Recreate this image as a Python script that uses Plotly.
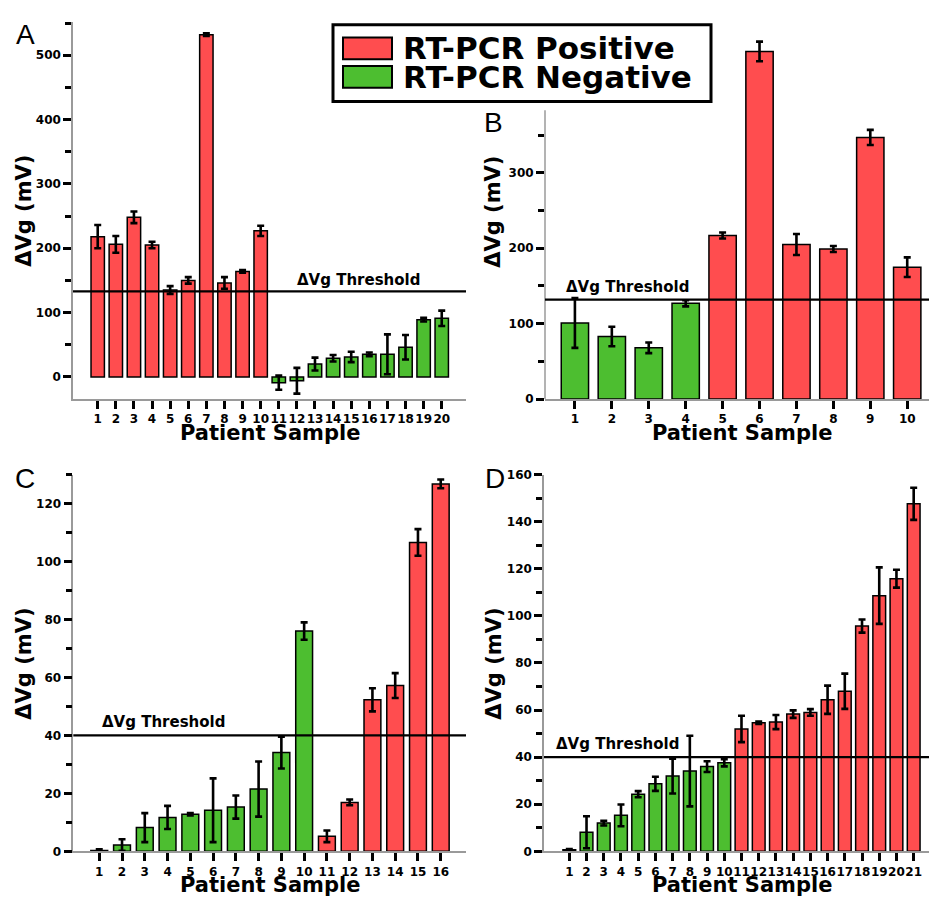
import plotly.graph_objects as go

W, H = 929, 901

# ---------------- data ----------------
a_samples = list(range(1, 21))
a_values = [218, 206, 248, 205, 135, 150, 532, 146, 164, 227,
            -9, -6, 20, 29, 31, 35, 35, 46, 89, 91]
a_errors = [18, 13, 9, 5, 6, 5, 2, 9, 2, 8,
            11, 20, 10, 5, 8, 3, 31, 19, 3, 12]
a_status = ["P"] * 10 + ["N"] * 10
a_threshold = 133

b_samples = list(range(1, 11))
b_values = [101, 83, 68, 127, 217, 461, 205, 199, 347, 175]
b_errors = [33, 13, 7, 4, 4, 13, 14, 4, 10, 13]
b_status = ["N"] * 4 + ["P"] * 6
b_threshold = 132

c_samples = list(range(1, 17))
c_values = [0.3, 2.2, 8.2, 11.7, 12.8, 14.2, 15.3, 21.5, 34.1, 76,
            5.2, 16.9, 52.3, 57.2, 106.6, 126.8]
c_errors = [0.4, 2, 5, 4, 0.4, 11, 4, 9.5, 5.5, 3,
            2, 1, 4, 4.3, 4.6, 1.5]
c_status = ["N"] * 10 + ["P"] * 6
c_threshold = 40

d_samples = list(range(1, 22))
d_values = [0.7, 8.1, 12, 15.3, 24.3, 28.7, 32, 34.1, 36, 37.6,
            52, 54.6, 54.9, 58.3, 59, 64.4, 68, 95.7, 108.6, 115.8, 147.6]
d_errors = [0.3, 6.8, 1, 4.6, 1.3, 3, 7.4, 15, 2.3, 1.5,
            5.6, 0.5, 3, 1.6, 1.4, 6, 7.5, 2.8, 12, 3.8, 6.8]
d_status = ["N"] * 10 + ["P"] * 11
d_threshold = 40

legend_labels = ["RT-PCR Positive", "RT-PCR Negative"]
panel_letters = ["A", "B", "C", "D"]

RED = "#FF4D4F"
GREEN = "#4DBE30"
COLORS = {"P": RED, "N": GREEN}
FONT = "DejaVu Sans"


def px(x, y):
    return x / W, 1 - y / H


fig = go.Figure()

panels = [
    ("", a_samples, a_values, a_errors, a_status, a_threshold,
     [-0.365, 21.34], [-34.1, 552], (73, 466), (15, 398),
     [0, 100, 200, 300, 400, 500], [50, 150, 250, 350, 450, 550], None),
    ("2", b_samples, b_values, b_errors, b_status, b_threshold,
     [0.19, 10.59], [0, 480], (545, 929), (30.6, 398.3),
     [0, 100, 200, 300], [50, 150, 250, 350], 383),
    ("3", c_samples, c_values, c_errors, c_status, c_threshold,
     [-0.14, 17.11], [0, 130], (73.3, 466), (475, 857.7),
     [0, 20, 40, 60, 80, 100, 120], [10, 30, 50, 70, 90, 110, 130], None),
    ("4", d_samples, d_values, d_errors, d_status, d_threshold,
     [-0.47, 21.89], [0, 160], (544, 929), (475, 857.7),
     list(range(0, 161, 20)), list(range(10, 160, 20)), None),
]

tickfont = dict(family=FONT, size=12, color="black", weight="bold")
layout_axes = {}

for (n, samples, vals, errs, status, thr, xr, yr, xd, yd, major, minor, spine_top) in panels:
    xa = "x" + n
    ya = "y" + n
    fig.add_trace(go.Bar(
        x=samples, y=vals,
        marker=dict(color=[COLORS[s] for s in status],
                    line=dict(color="black", width=1.5)),
        width=0.74,
        error_y=dict(type="data", array=errs, color="black",
                     thickness=2.6, width=3.5),
        xaxis=xa, yaxis=ya, showlegend=False,
    ))
    layout_axes["xaxis" + n] = dict(
        domain=[xd[0] / W, xd[1] / W], range=xr, anchor=ya,
        tickmode="array", tickvals=samples, ticktext=[str(s) for s in samples],
        tickangle=0, ticks="outside", ticklen=8, tickwidth=2.5, tickcolor="black",
        showline=True, linecolor="#9a9a9a", linewidth=1.5,
        showgrid=False, zeroline=False, tickfont=tickfont,
    )
    layout_axes["yaxis" + n] = dict(
        domain=[1 - yd[1] / H, 1 - yd[0] / H], range=yr, anchor=xa,
        tickmode="array", tickvals=major, ticktext=[str(v) for v in major],
        ticks="outside", ticklen=8, tickwidth=2.5, tickcolor="black",
        minor=dict(tickvals=minor, ticks="outside", ticklen=6, tickwidth=2.5,
                   tickcolor="black", showgrid=False),
        showline=(spine_top is None), linecolor="#9a9a9a", linewidth=1.5,
        showgrid=False, zeroline=False, tickfont=tickfont,
    )
    if spine_top is not None:
        fig.add_shape(type="line", xref=xa + " domain", yref=ya,
                      x0=0, x1=0, y0=yr[0], y1=spine_top,
                      line=dict(color="#9a9a9a", width=1.5))
    fig.add_shape(type="line", xref=xa + " domain", yref=ya,
                  x0=0, x1=1, y0=thr, y1=thr,
                  line=dict(color="black", width=2.2))

fig.update_layout(**layout_axes)

annotations = []


def ann(text, x, y, size, bold=True, angle=0, family=FONT):
    ax, ay = px(x, y)
    annotations.append(dict(
        text=text, x=ax, y=ay, xref="paper", yref="paper",
        xanchor="center", yanchor="middle", showarrow=False,
        textangle=angle,
        font=dict(family=family, size=size, color="black",
                  weight="bold" if bold else "normal"),
    ))


for (x, y) in [(24, 207), (493, 208), (24, 667), (494, 667)]:
    ann("ΔVg (mV)", x, y, 21, angle=-90)
for (x, y) in [(270, 433), (742, 433), (270, 892), (742, 892)]:
    ann("Patient Sample", x, y, 21)
for (x, y) in [(358, 277), (627, 284), (163, 726), (617, 749)]:
    ann("ΔVg Threshold", x, y, 15)
for letter, (x, y) in zip(panel_letters, [(25, 28), (494, 117), (25, 479), (495, 479)]):
    ann(letter, x, y, 28, bold=False, family="Liberation Sans")

# legend (drawn manually)
bx0, by0 = px(333, 18)
bx1, by1 = px(711, 96)
fig.add_shape(type="rect", xref="paper", yref="paper", x0=bx0, y0=by1, x1=bx1, y1=by0,
              line=dict(color="black", width=3), fillcolor="white", layer="above")
for lab, col, yc in zip(legend_labels, [RED, GREEN], [42, 71]):
    sx0, sy0 = px(343, yc - 11)
    sx1, sy1 = px(392, yc + 11)
    fig.add_shape(type="rect", xref="paper", yref="paper", x0=sx0, y0=sy1, x1=sx1, y1=sy0,
                  line=dict(color="black", width=2), fillcolor=col, layer="above")
    tx, ty = px(401, yc)
    annotations.append(dict(
        text=lab, x=tx, y=ty, xref="paper", yref="paper",
        xanchor="left", yanchor="middle", showarrow=False,
        font=dict(family=FONT, size=31, color="black", weight="bold"),
    ))

fig.update_layout(
    annotations=annotations,
    width=W, height=H,
    margin=dict(l=0, r=0, t=0, b=0),
    paper_bgcolor="white", plot_bgcolor="white",
    bargap=0.2, showlegend=False,
)

fig.write_html(
    "out.html",
    config={"displayModeBar": False},
    post_script="document.documentElement.style.margin='0';document.body.style.margin='0';"
                "document.body.style.padding='0';document.body.style.overflow='hidden';"
                "document.documentElement.style.overflow='hidden';",
)
